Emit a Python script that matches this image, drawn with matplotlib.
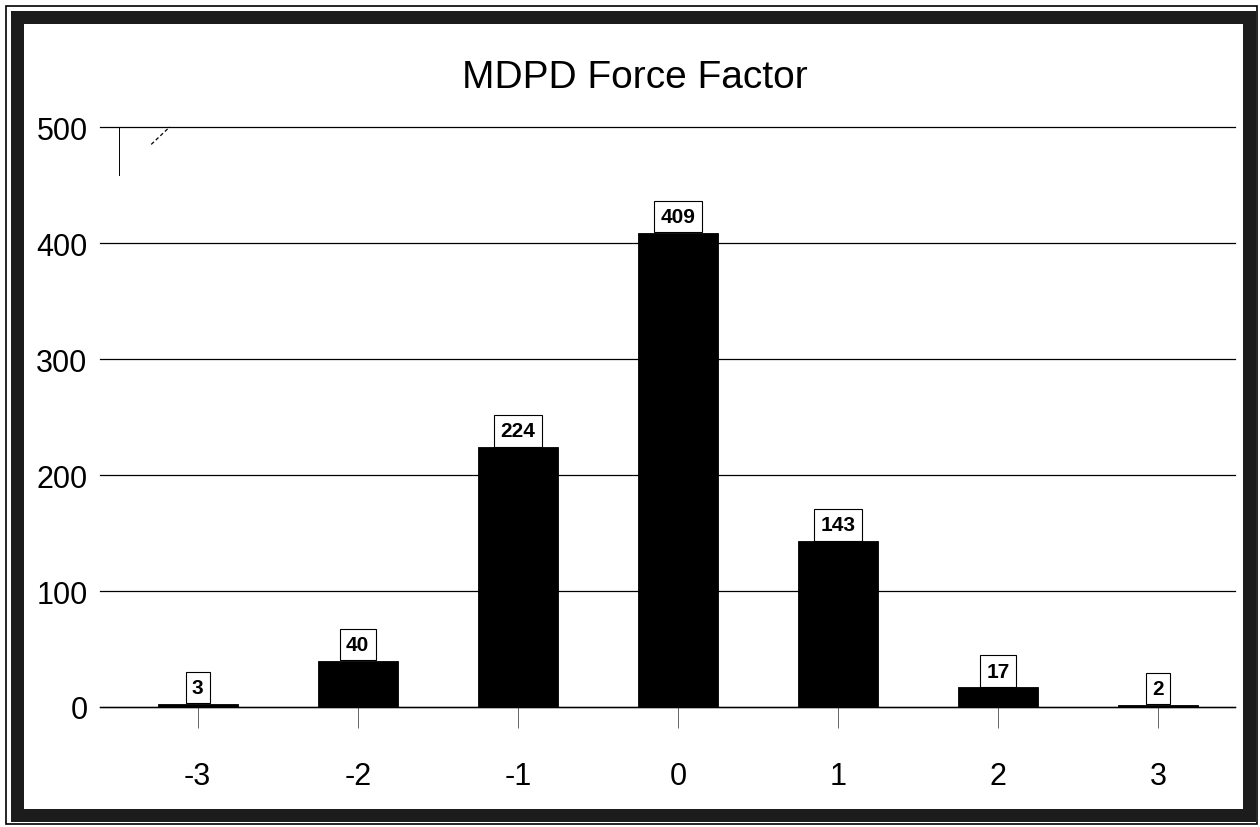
import matplotlib
matplotlib.use("Agg")
import matplotlib.pyplot as plt
from matplotlib.patches import Rectangle

categories = [-3, -2, -1, 0, 1, 2, 3]
counts = [3, 40, 224, 409, 143, 17, 2]
yticks = [0, 100, 200, 300, 400, 500]
title = "MDPD Force Factor"

plt.rcParams['font.family'] = ['Liberation Sans', 'DejaVu Sans']

W, H = 1260, 828
fig = plt.figure(figsize=(W / 100, H / 100), dpi=100)
fig.patch.set_facecolor('white')

def fx(px):
    return px / W

def fy(py):
    return 1 - py / H

ax = fig.add_axes([fx(100), fy(708), fx(1235) - fx(100), fy(128) - fy(708)])
ax.bar(categories, counts, width=0.5, color='black', edgecolor='black', linewidth=0.6, zorder=3)
ax.set_xlim(-3.61, 3.48)
ax.set_ylim(0, 500)
ax.set_yticks(yticks)
ax.set_xticks(categories)
ax.set_xticklabels([str(c) for c in categories])
ax.yaxis.grid(True, color='black', linewidth=0.9, zorder=0)
for gl in ax.get_ygridlines():
    gl.set_clip_on(False)
for s in ['left', 'right', 'top']:
    ax.spines[s].set_visible(False)
ax.spines['bottom'].set_linewidth(1.0)
ax.tick_params(axis='y', length=0, pad=9, labelsize=22)
ax.tick_params(axis='x', length=15, width=0.7, color='#666666', direction='out', pad=24, labelsize=22)
for t in ax.xaxis.get_ticklines():
    t.set_linestyle((0, (2, 2)))

# small stray marks near the top-left corner of the plot area
ax.plot([-3.49, -3.49], [500, 459], color='black', linewidth=0.7, clip_on=False, zorder=2)
ax.plot([-3.29, -3.175], [485, 500], color='black', linewidth=0.9, linestyle=(0, (3, 2)), clip_on=False, zorder=2)

for c, v in zip(categories, counts):
    ax.annotate(str(v), xy=(c, v), xytext=(0, 4.8), textcoords='offset points',
                ha='center', va='bottom', fontsize=15, fontweight='bold', zorder=5,
                bbox=dict(boxstyle='square,pad=0.3', facecolor='white', edgecolor='black', linewidth=0.8))

fig.text(fx(635), fy(78), title, ha='center', va='center', fontsize=28)

# Frame border
band_lw_px = 13
fig.add_artist(Rectangle((fx(17), fy(816)), fx(1249) - fx(17), fy(18) - fy(816),
                         transform=fig.transFigure, fill=False, edgecolor='#1c1c1c',
                         linewidth=band_lw_px * 72 / 100, zorder=10))
fig.add_artist(Rectangle((fx(6), fy(825)), fx(1257) - fx(6), fy(7) - fy(825),
                         transform=fig.transFigure, fill=False, edgecolor='black',
                         linewidth=1.2, zorder=10))

fig.savefig('out.png', dpi=100)
